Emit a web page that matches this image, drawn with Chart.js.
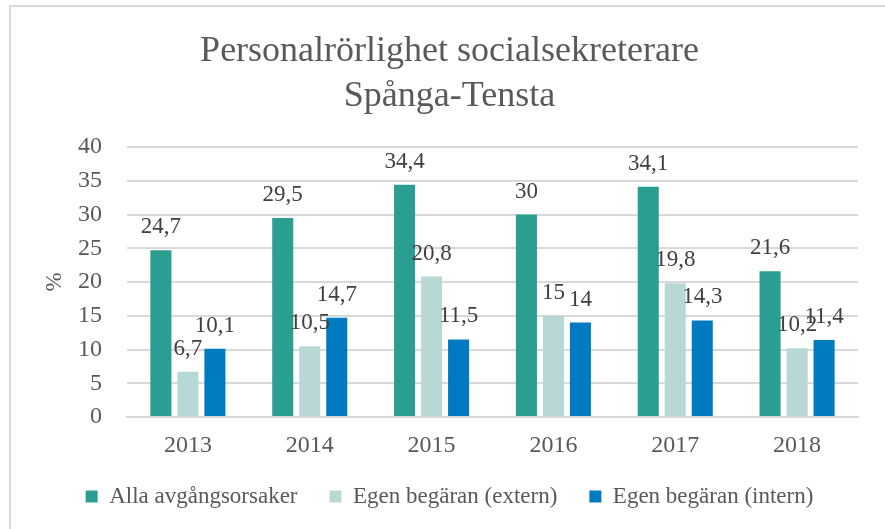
<!DOCTYPE html>
<html>
<head>
<meta charset="utf-8">
<script src="https://cdn.jsdelivr.net/npm/chart.js@4"></script>
<style>
    body { margin: 0; background: #fff; }
    #wrap { position: relative; width: 885px; height: 529px; overflow: hidden; }
    #frame { position: absolute; left: 9px; top: 5px; width: 900px; height: 560px;
             border-left: 2px solid #d9d9d9; border-top: 2px solid #d9d9d9; }
    canvas { position: absolute; left: 0; top: 0; }
</style>
</head>
<body>
<div id="wrap">
    <div id="frame"></div>
    <canvas id="chart" width="885" height="529"></canvas>
</div>
<script>
// Årtal och andelar (%) per avgångsorsak
const years = ['2013', '2014', '2015', '2016', '2017', '2018'];
const allaOrsaker = [24.7, 29.5, 34.4, 30, 34.1, 21.6];
const egenExtern = [6.7, 10.5, 20.8, 15, 19.8, 10.2];
const egenIntern = [10.1, 14.7, 11.5, 14, 14.3, 11.4];
const yTicks = [0, 5, 10, 15, 20, 25, 30, 35, 40];

const serif = "'Liberation Serif', 'Times New Roman', serif";
const textColor = '#595959';

// Skriver värdet ovanför varje stapel, med decimalkomma
const valueLabels = {
    id: 'valueLabels',
    afterDatasetsDraw(chart) {
        const ctx = chart.ctx;
        ctx.save();
        ctx.font = '23px ' + serif;
        ctx.fillStyle = '#404040';
        ctx.textAlign = 'center';
        ctx.textBaseline = 'alphabetic';
        chart.data.datasets.forEach((ds, i) => {
            chart.getDatasetMeta(i).data.forEach((bar, j) => {
                const txt = String(ds.data[j]).replace('.', ',');
                ctx.fillText(txt, bar.x, bar.y - 17);
            });
        });
        ctx.restore();
    }
};

new Chart(document.getElementById('chart'), {
    type: 'bar',
    data: {
        labels: years,
        datasets: [
            { label: 'Alla avgångsorsaker', data: allaOrsaker, backgroundColor: '#299e91' },
            { label: 'Egen begäran (extern)', data: egenExtern, backgroundColor: '#b7d8d5' },
            { label: 'Egen begäran (intern)', data: egenIntern, backgroundColor: '#007bc1' }
        ]
    },
    options: {
        responsive: false,
        animation: false,
        devicePixelRatio: 1,
        layout: { padding: { left: 41, right: 27, top: 8, bottom: 11 } },
        categoryPercentage: 0.665,
        barPercentage: 0.78,
        plugins: {
            title: {
                display: true,
                text: ['Personalrörlighet socialsekreterare', 'Spånga-Tensta'],
                color: textColor,
                font: { family: serif, size: 36, weight: 'normal', lineHeight: 1.25 },
                padding: { top: 21, bottom: 28 }
            },
            legend: {
                position: 'bottom',
                labels: {
                    color: textColor,
                    font: { family: serif, size: 23 },
                    boxWidth: 12,
                    boxHeight: 12,
                    padding: 32
                }
            },
            tooltip: { enabled: false }
        },
        scales: {
            y: {
                min: 0,
                max: 40,
                afterBuildTicks: axis => { axis.ticks = yTicks.map(v => ({ value: v })); },
                afterFit: axis => { axis.width = 86; },
                grid: { color: '#d9d9d9', lineWidth: 2, drawTicks: false },
                border: { display: false },
                ticks: { color: textColor, font: { family: serif, size: 24 }, padding: 25 },
                title: {
                    display: true,
                    text: '%',
                    color: textColor,
                    font: { family: serif, size: 23 },
                    padding: { top: 0, bottom: 0 }
                }
            },
            x: {
                afterFit: axis => { axis.height = 36; },
                grid: { display: false },
                border: { color: '#d9d9d9', width: 2 },
                ticks: { color: textColor, font: { family: serif, size: 24 }, padding: 6 }
            }
        }
    },
    plugins: [valueLabels]
});
</script>
</body>
</html>
